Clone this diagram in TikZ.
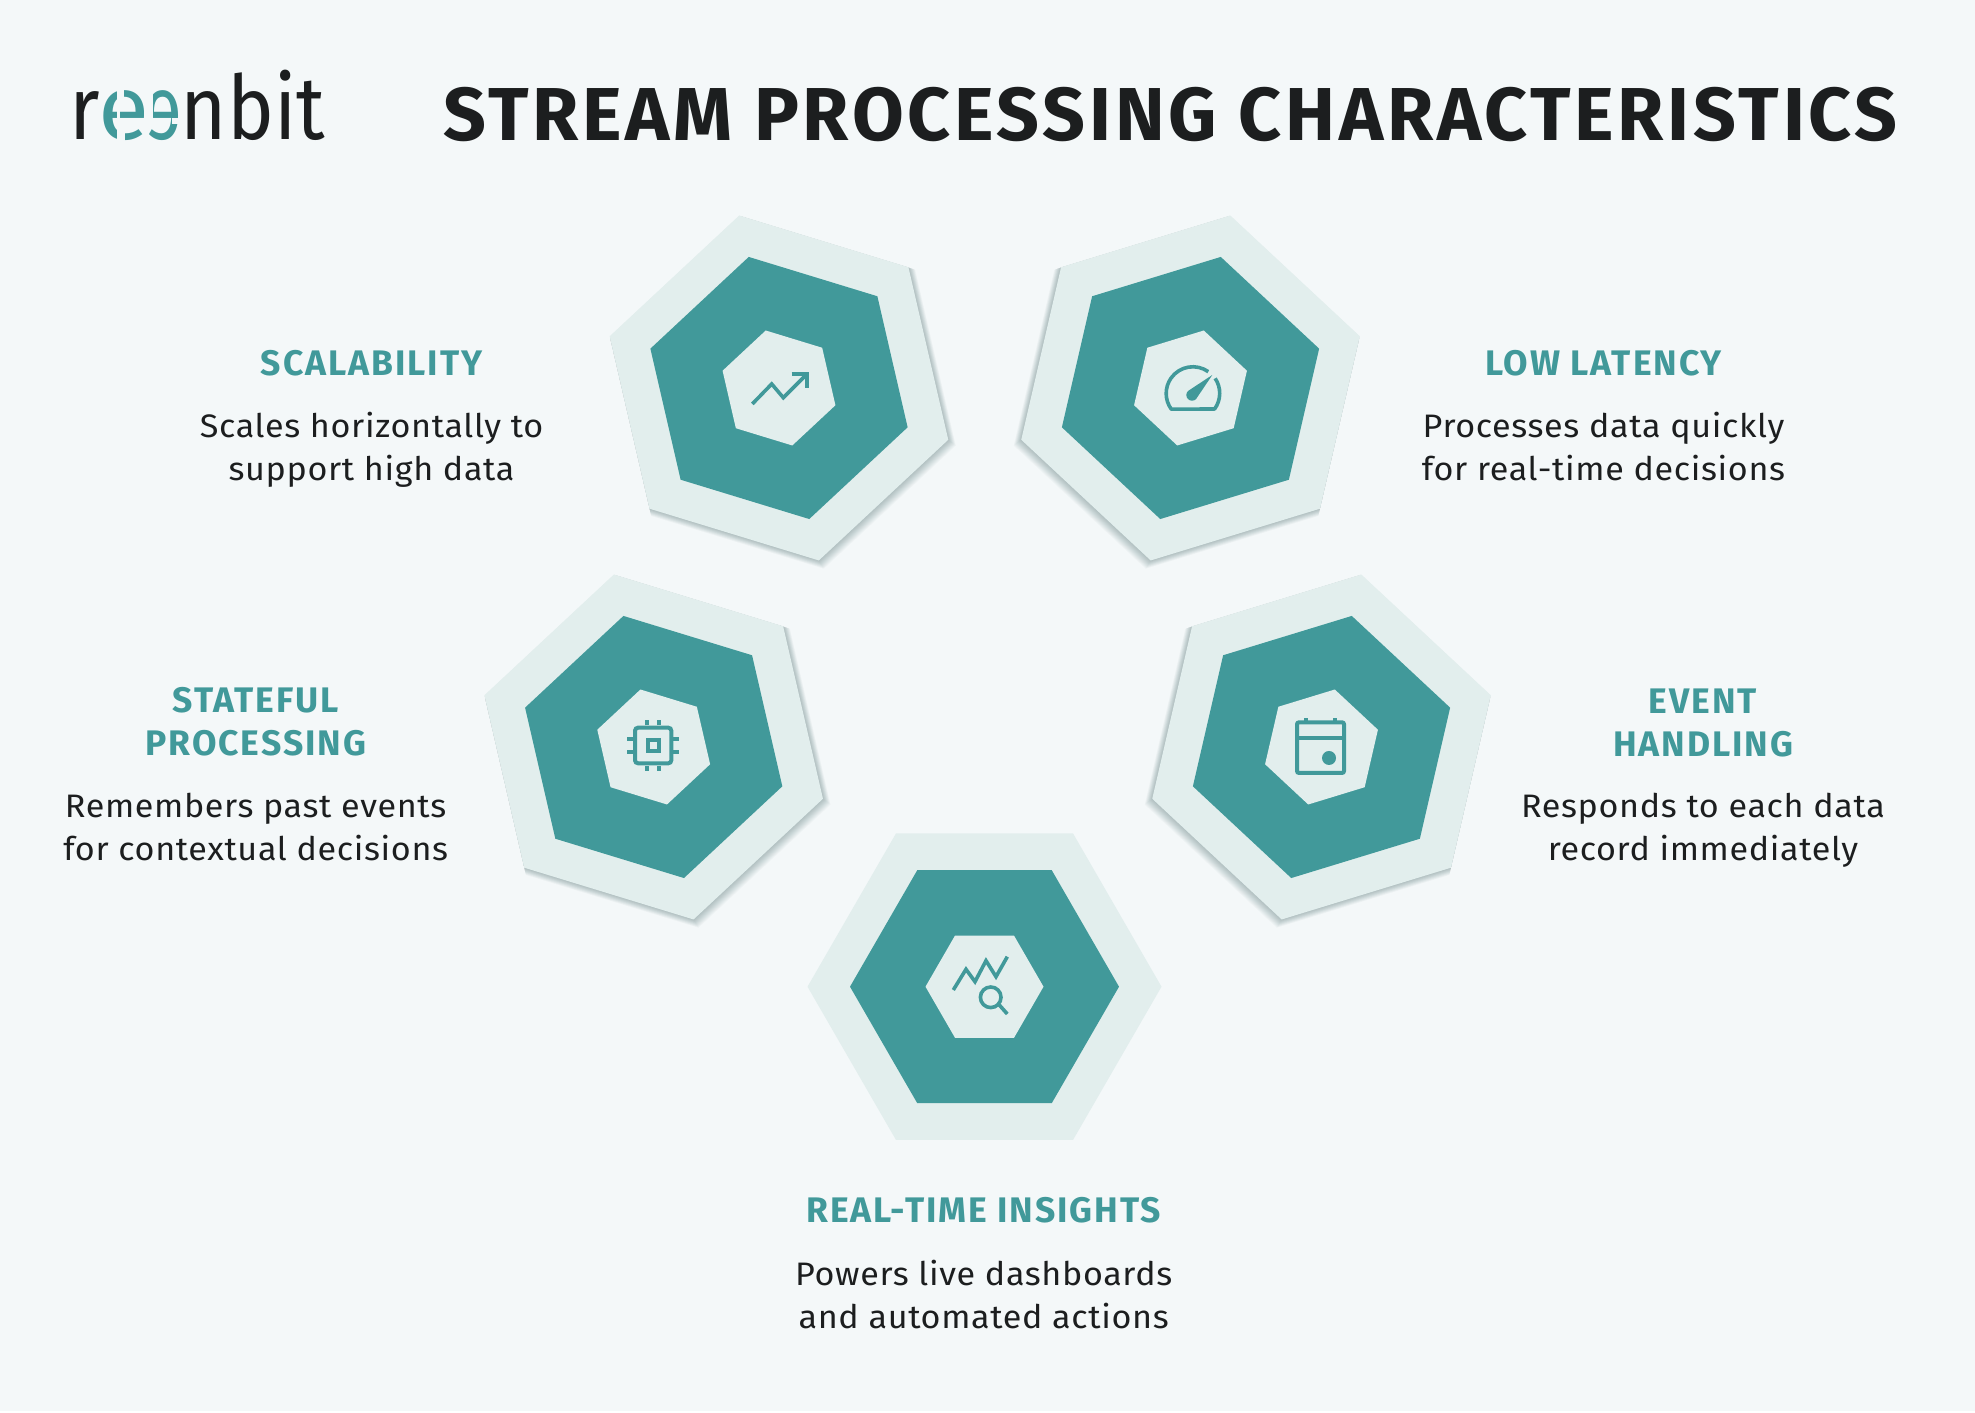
\documentclass[tikz,border=0pt]{standalone}
\usepackage{fontspec}
\setmainfont{Fira Sans}
\newfontfamily\logofont[FakeStretch=0.89]{Fira Sans}
\newfontfamily\titlefont[LetterSpace=5]{Fira Sans}
\newfontfamily\headfont[LetterSpace=5.5]{Fira Sans}
\newfontfamily\bodyfont[FakeStretch=1.05,LetterSpace=2]{Fira Sans}
\usetikzlibrary{shapes.geometric}
\definecolor{pagebg}{HTML}{F4F8F9}
\definecolor{hexlight}{HTML}{E2EEED}
\definecolor{hexteal}{HTML}{41999A}
\definecolor{inkdark}{HTML}{1C1E1F}
\tikzset{
  hexouter/.style={regular polygon,regular polygon sides=6,inner sep=0,outer sep=0,minimum size=354pt,fill=hexlight},
  hexmiddle/.style={regular polygon,regular polygon sides=6,inner sep=0,outer sep=0,minimum size=269pt,fill=hexteal},
  hexinner/.style={regular polygon,regular polygon sides=6,inner sep=0,outer sep=0,minimum size=118pt,fill=hexlight},
  hexshadow/.style={regular polygon,regular polygon sides=6,inner sep=0,outer sep=0,fill=black!50!hexteal,opacity=0.025},
  headtext/.style={font=\fontsize{35.5}{43}\headfont\bfseries,text=hexteal,align=center,inner sep=0},
  bodytext/.style={font=\fontsize{32.5}{43}\bodyfont,text=inkdark,align=center,inner sep=0},
  logotext/.style={font=\fontsize{89}{89}\logofont,inner sep=0,anchor=base west},
  iconline/.style={draw=hexteal,line width=3.6pt,line join=miter},
  iconfill/.style={fill=hexteal},
}
\newcommand{\hexastack}[5]{% name, x, y, border rotate, shadow dx
  \ifnum#5=0\relax\else
    \foreach \blur in {1,2,...,14} {
      \node [hexshadow,shape border rotate=#4,minimum size={354pt+\blur*0.5pt}] at (#2+#5*0.03*\blur,#3-0.35*\blur) {};
    }
  \fi
  \node [hexouter,shape border rotate=#4] (#1outer) at (#2,#3) {};
  \node [hexmiddle,shape border rotate=#4] (#1middle) at (#2,#3) {};
  \node [hexinner,shape border rotate=#4] (#1) at (#2,#3) {};
}
\begin{document}
\begin{tikzpicture}[x=1pt,y=1pt]
\useasboundingbox (0,0) rectangle (1975,1413);
\fill [pagebg] (0,1.5) rectangle (1975,1413);

% logo
\node [logotext,text=inkdark] (logor) at (69,1273.7) {r};
\node [logotext,text=hexteal] (logoea) at (98.6,1273.7) {\scalebox{1.18}[1.02]{e}};
\node [logotext,text=hexteal] (logoeb) at (144.5,1273.7) {\scalebox{-0.88}[1.02]{e}};
\node [logotext,text=inkdark] (logonbit) at (180.5,1273.7) {nbit};
% stencil cuts in the two e
\fill [pagebg] (117,1270) rectangle (119.5,1326);
\fill [pagebg] (117,1305) rectangle (124,1326);
\fill [pagebg] (117,1270) rectangle (125,1289);
\fill [pagebg] (143.5,1283.7) rectangle (152.5,1326);
\fill [pagebg] (172,1288.7) rectangle (180,1294.7);

% title
\node [inner sep=0,anchor=base west,text=inkdark,font=\fontsize{75}{75}\titlefont\bfseries] (title) at (443,1272) {STREAM PROCESSING CHARACTERISTICS};

% hexagons
\hexastack{scale}{779}{1025}{43}{10}
\hexastack{latency}{1190.5}{1025}{17}{-10}
\hexastack{state}{653.7}{666}{43}{10}
\hexastack{event}{1321.5}{666}{17}{-10}
\hexastack{insight}{984.5}{426.3}{0}{0}

% arrow icon
\begin{scope}[shift={(scale.center)}]
\draw [iconline] (-26.7,-16) -- (-7.3,4) -- (4.3,-9.7) -- (27,13);
\draw [iconline] (12.7,14) -- (27.7,14) -- (27.7,-0.3);
\end{scope}

% gauge icon
\begin{scope}[shift={(latency.center)}]
\draw [iconline,line join=round] (17.8,16.3) arc [start angle=54.7,end angle=216,radius=26.7pt] -- (24.1,-21) arc [start angle=-36,end angle=34,radius=26.7pt];
\fill [iconfill] (21.8,13) -- (-2.5,-3) arc [start angle=135,end angle=315,radius=5.7pt] -- cycle;
\end{scope}

% chip icon
\begin{scope}[shift={(state.center)}]
\draw [iconline,line width=4pt,rounded corners=3pt] (-18.7,-16.3) rectangle (17.6,19.3);
\draw [iconline,line width=4pt] (-5.9,-3.7) rectangle (5,7);
\foreach \xpin in {-7,5.6} {
  \draw [iconline,line width=4pt] (\xpin,21.7) -- (\xpin,27);
  \draw [iconline,line width=4pt] (\xpin,-19) -- (\xpin,-24);
}
\foreach \ypin in {8,-4.7} {
  \draw [iconline,line width=4pt] (-26.7,\ypin) -- (-21,\ypin);
  \draw [iconline,line width=4pt] (19.6,\ypin) -- (25,\ypin);
}
\end{scope}

% calendar icon
\begin{scope}[shift={(event.center)}]
\draw [iconline,line width=4pt,rounded corners=2pt] (-24.5,-26) rectangle (22.5,24.7);
\draw [iconline,line width=4pt] (-24.5,9.3) -- (22.5,9.3);
\draw [iconline,line width=4pt] (-15.5,24.7) -- (-15.5,29.3);
\draw [iconline,line width=4pt] (13.8,24.7) -- (13.8,29.3);
\fill [iconfill] (7.5,-11) circle [radius=7pt];
\end{scope}

% chart and lens icon
\begin{scope}[shift={(insight.center)}]
\draw [iconline] (-31.2,-3.3) -- (-18.5,17.4) -- (-9.5,5) -- (1.5,26) -- (11.5,10) -- (22.8,30);
\draw [iconline] (6.2,-10.6) circle [radius=10.3pt];
\draw [iconline] (14.8,-18.3) -- (22.8,-27.3);
\end{scope}

% labels
\node [headtext] (scalehead) at (371.6,1050) {SCALABILITY};
\node [bodytext] (scalebody) at (371.6,963.5) {Scales horizontally to\\support high data};
\node [headtext] (latencyhead) at (1603.5,1050) {LOW LATENCY};
\node [bodytext] (latencybody) at (1603.5,966) {Processes data quickly\\for real-time decisions};
\node [headtext] (statehead) at (255.7,691.5) {STATEFUL\\PROCESSING};
\node [bodytext] (statebody) at (255.7,585.5) {Remembers past events\\for contextual decisions};
\node [headtext] (eventhead) at (1703,690.3) {EVENT\\HANDLING};
\node [bodytext] (eventbody) at (1703,583) {Responds to each data\\record immediately};
\node [headtext] (insighthead) at (983.7,202.5) {REAL-TIME INSIGHTS};
\node [bodytext] (insightbody) at (983.7,118.3) {Powers live dashboards\\and automated actions};
\end{tikzpicture}
\end{document}
